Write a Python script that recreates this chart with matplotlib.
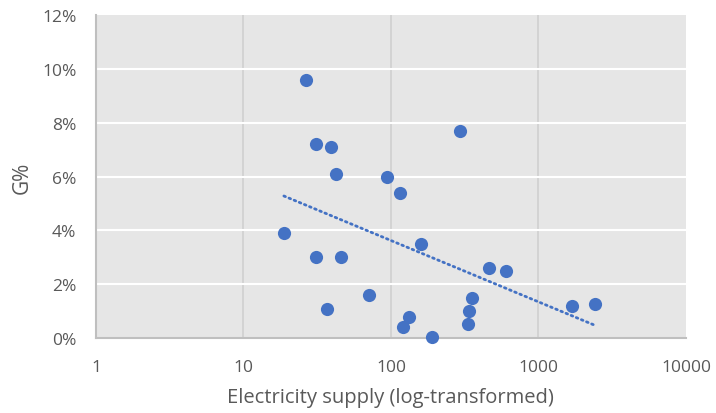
import numpy as np
import matplotlib
matplotlib.use("Agg")
import matplotlib.pyplot as plt
from matplotlib.ticker import FuncFormatter, FixedLocator

supply = [26.5, 31.0, 39.2, 42.4, 94, 115, 294, 18.8, 31, 45.8, 160, 462, 602,
          71, 36.8, 132, 120, 190, 354, 338, 333, 1687, 2417]
g_pct = [9.6, 7.2, 7.1, 6.1, 6.0, 5.4, 7.7, 3.9, 3.0, 3.0, 3.5, 2.6, 2.5,
         1.6, 1.08, 0.78, 0.41, 0.04, 1.49, 1.0, 0.52, 1.19, 1.26]
x_ticks = [1, 10, 100, 1000, 10000]
y_ticks = [0, 2, 4, 6, 8, 10, 12]

plt.rcParams['font.family'] = ['Open Sans', 'DejaVu Sans']

fig = plt.figure(figsize=(7.16, 4.14), dpi=100)
ax = fig.add_axes([0.134, 0.181, 0.824, 0.780])
ax.set_facecolor('#e6e6e6')
ax.set_xscale('log')
ax.set_xlim(1, 10000)
ax.set_ylim(0, 12)

ax.xaxis.set_major_locator(FixedLocator(x_ticks))
ax.xaxis.set_minor_locator(FixedLocator([]))
ax.xaxis.set_major_formatter(FuncFormatter(lambda v, p: f"{v:g}"))
ax.yaxis.set_major_locator(FixedLocator(y_ticks))
ax.yaxis.set_major_formatter(FuncFormatter(lambda v, p: f"{v:.0f}%"))

for xv in x_ticks[1:-1]:
    ax.axvline(xv, color='#d0d0d0', lw=1.2, zorder=1)
for yv in y_ticks[1:-1]:
    ax.axhline(yv, color='white', lw=1.5, zorder=1)

for s in ['top', 'right']:
    ax.spines[s].set_visible(False)
for s in ['left', 'bottom']:
    ax.spines[s].set_color('#bfbfbf')
    ax.spines[s].set_linewidth(1.5)

ax.tick_params(axis='both', length=0, labelsize=12.5, colors='#595959')
ax.tick_params(axis='x', pad=15)
ax.tick_params(axis='y', pad=14)

ax.scatter(supply, g_pct, s=90, color='#4472c4', zorder=3, clip_on=False, linewidths=0)

lx = np.log(np.array(supply))
coef = np.polyfit(lx, np.array(g_pct), 1)
xs = np.linspace(lx.min(), lx.max(), 200)
ax.plot(np.exp(xs), np.polyval(coef, xs), color='#4472c4', lw=2, ls=(0, (0.6, 1.4)),
        dash_capstyle='round', zorder=2)

ax.set_xlabel('Electricity supply (log-transformed)', fontsize=14.5, color='#595959', labelpad=9)
ax.set_ylabel('G%', fontsize=15, color='#595959', labelpad=7)

fig.savefig('out.png', dpi=100)
